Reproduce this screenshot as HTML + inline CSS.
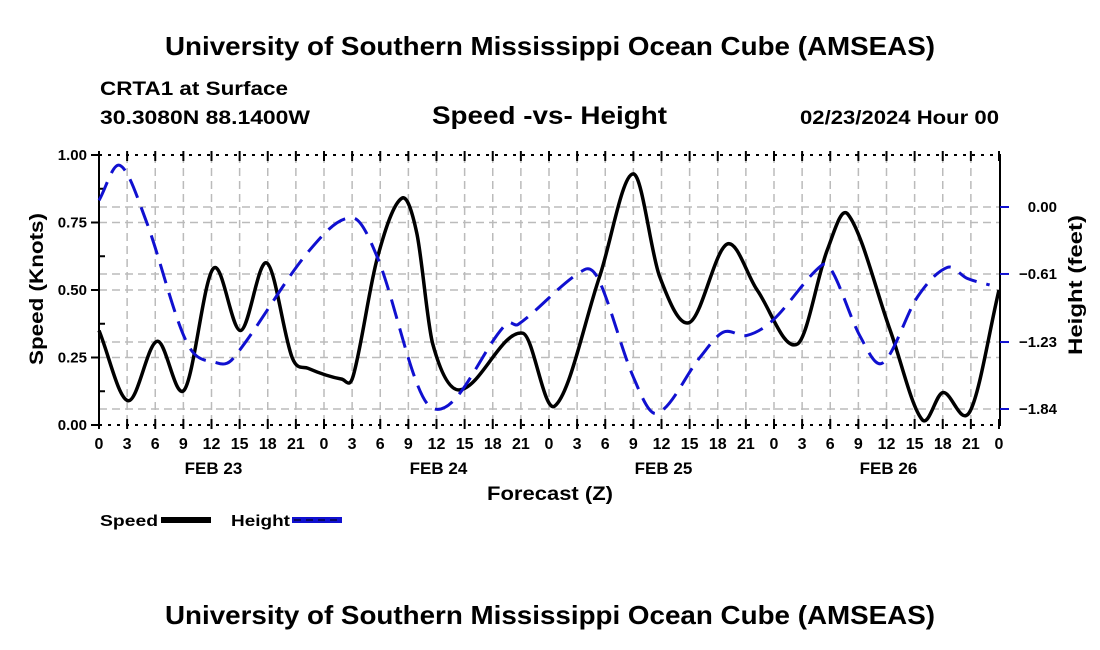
<!DOCTYPE html>
<html><head><meta charset="utf-8"><style>
body{margin:0;background:#fff;}
svg{display:block;font-family:"Liberation Sans",Arial,sans-serif;font-weight:bold;}
</style></head><body>
<svg id="c" width="1100" height="650" viewBox="0 0 1100 650">
<text x="165" y="55" font-size="26" textLength="770" lengthAdjust="spacingAndGlyphs">University of Southern Mississippi Ocean Cube (AMSEAS)</text>
<text x="100" y="95" font-size="19" textLength="188" lengthAdjust="spacingAndGlyphs">CRTA1 at Surface</text>
<text x="100" y="124" font-size="19" textLength="210" lengthAdjust="spacingAndGlyphs">30.3080N  88.1400W</text>
<text x="432" y="124" font-size="25" textLength="235" lengthAdjust="spacingAndGlyphs">Speed -vs- Height</text>
<text x="800" y="124" font-size="19" textLength="199" lengthAdjust="spacingAndGlyphs">02/23/2024 Hour 00</text>
<g id="grid"></g><g id="axes"></g><g id="series"></g>
<text x="487" y="500" font-size="19" textLength="126" lengthAdjust="spacingAndGlyphs">Forecast (Z)</text>
<text transform="translate(43,289) rotate(-90)" text-anchor="middle" font-size="19" textLength="152" lengthAdjust="spacingAndGlyphs">Speed (Knots)</text>
<text transform="translate(1082,285) rotate(-90)" text-anchor="middle" font-size="19" textLength="140" lengthAdjust="spacingAndGlyphs">Height (feet)</text>
<g><text x="100" y="526" font-size="16" textLength="58" lengthAdjust="spacingAndGlyphs">Speed</text><rect x="161" y="517" width="50" height="6" fill="#000"/></g>
<g><text x="231" y="526" font-size="16" textLength="59" lengthAdjust="spacingAndGlyphs">Height</text><rect x="292" y="517" width="50" height="6" fill="#1010d0"/><line x1="294" y1="520" x2="340" y2="520" stroke="#000" stroke-width="1" stroke-dasharray="7,5"/></g>
<text x="165" y="624" font-size="26" textLength="770" lengthAdjust="spacingAndGlyphs">University of Southern Mississippi Ocean Cube (AMSEAS)</text>
</svg>
<script>
const speedHours=[0,3.1,6.2,9.1,12.2,15.1,17.9,20.6,22.3,25.9,27.1,29.7,32.3,33.9,35.6,38.5,45.2,48.6,53.4,57.0,59.8,63.0,67.0,70.2,74.5,77.7,79.9,84.4,87.8,90.0,92.9,96];
const speedValues=[0.35,0.09,0.31,0.13,0.58,0.35,0.60,0.25,0.21,0.17,0.18,0.62,0.84,0.71,0.30,0.13,0.34,0.07,0.55,0.93,0.55,0.38,0.67,0.50,0.30,0.65,0.78,0.35,0.02,0.12,0.05,0.50];
const heightHours=[0,2.2,5,9.4,12.6,14.3,22.5,27.1,29.7,35.5,43.5,44.7,51.8,53.4,57.0,59.5,64.1,66.6,69.1,71.9,77.1,78.3,81.2,83.6,87.3,90.5,92.6,95];
const heightValues=[0.06,0.38,-0.12,-1.24,-1.42,-1.38,-0.39,-0.10,-0.46,-1.83,-1.06,-1.07,-0.57,-0.68,-1.55,-1.88,-1.37,-1.14,-1.17,-1.03,-0.53,-0.60,-1.18,-1.42,-0.82,-0.55,-0.65,-0.71];
const hourTicks=[0,3,6,9,12,15,18,21,0,3,6,9,12,15,18,21,0,3,6,9,12,15,18,21,0,3,6,9,12,15,18,21,0];
const dayLabels=['FEB 23','FEB 24','FEB 25','FEB 26'];
const speedTicks=['0.00','0.25','0.50','0.75','1.00'];
const heightTicks=[0.00,-0.61,-1.23,-1.84];
const X0=99,X1=999,YT=155,YB=425;
const xs=h=>X0+(X1-X0)*h/96;
const ys=v=>YB-(YB-YT)*v/1.0;
const yh=v=>207+(v/-1.84)*202;
const NS='http://www.w3.org/2000/svg';
function mk(p,tag,at){const e=document.createElementNS(NS,tag);for(const k in at)e.setAttribute(k,at[k]);document.getElementById(p).appendChild(e);return e;}
for(let i=1;i<32;i++){const x=xs(i*3);
const g=mk('grid','line',{x1:x,y1:YT,x2:x,y2:YB,stroke:'#bbb','stroke-width':1.5,'stroke-dasharray':'8,5'});

}
[0.25,0.5,0.75].forEach(v=>{const g=mk('grid','line',{x1:X0,y1:ys(v),x2:X1,y2:ys(v),stroke:'#bbb','stroke-width':1.5,'stroke-dasharray':'8,5'});

});
heightTicks.forEach(v=>{const g=mk('grid','line',{x1:X0,y1:yh(v),x2:X1,y2:yh(v),stroke:'#bbb','stroke-width':1.5,'stroke-dasharray':'8,5'});

});
[YT,YB].forEach(y=>{mk('axes','line',{x1:X0,y1:y,x2:X1,y2:y,stroke:'#000','stroke-width':2,'stroke-dasharray':'3,6'});});
let a=mk('axes','line',{x1:X0,y1:YT-1,x2:X0,y2:YB+1,stroke:'#000','stroke-width':2});


a=mk('axes','line',{x1:X1+1,y1:YT-1,x2:X1+1,y2:YB+1,stroke:'#000','stroke-width':2});


hourTicks.forEach((t,i)=>{const x=xs(i*3);
mk('axes','line',{x1:x,y1:YB-6,x2:x,y2:YB+4,stroke:'#000','stroke-width':2});
mk('axes','line',{x1:x,y1:YT-4,x2:x,y2:YT+6,stroke:'#000','stroke-width':2});
const tx=mk('axes','text',{x:x,y:449,'text-anchor':'middle','font-size':16});tx.textContent=t;

});
dayLabels.forEach((d,i)=>{const tx=mk('axes','text',{x:xs(12+24*i)+2,y:474,'text-anchor':'middle','font-size':17});tx.textContent=d;

});
speedTicks.forEach((t,i)=>{const y=ys(i*0.25);
mk('axes','line',{x1:X0-8,y1:y,x2:X0,y2:y,stroke:'#000','stroke-width':2});
if(i<4)mk('axes','line',{x1:X0,y1:ys(i*0.25+0.125),x2:X0+6,y2:ys(i*0.25+0.125),stroke:'#000','stroke-width':2});
const tx=mk('axes','text',{x:X0-12,y:y+5,'text-anchor':'end','font-size':15});tx.textContent=t;

});
heightTicks.forEach(v=>{const y=yh(v);
mk('axes','line',{x1:X1+1,y1:y,x2:X1+10,y2:y,stroke:'#1010d0','stroke-width':2});
const tx=mk('axes','text',{x:1057,y:y+5,'text-anchor':'end','font-size':15});tx.textContent=(v===0?'0.00':'\u2212'+Math.abs(v).toFixed(2));

});
function spline(pts){const n=pts.length,m=[];
for(let i=0;i<n;i++){const a=pts[Math.max(0,i-1)],b=pts[Math.min(n-1,i+1)];m.push((b[1]-a[1])/(b[0]-a[0]));}
let d='M'+pts[0][0]+','+pts[0][1];
for(let i=0;i<n-1;i++){const p1=pts[i],p2=pts[i+1],dx=(p2[0]-p1[0])/3;
d+=' C'+(p1[0]+dx)+','+(p1[1]+m[i]*dx)+' '+(p2[0]-dx)+','+(p2[1]-m[i+1]*dx)+' '+p2[0]+','+p2[1];}return d;}
let s=mk('series','path',{d:spline(speedHours.map((h,i)=>[xs(h),ys(speedValues[i])])),fill:'none',stroke:'#000','stroke-width':3.5});


s=mk('series','path',{d:spline(heightHours.map((h,i)=>[xs(h),yh(heightValues[i])])),fill:'none',stroke:'#1010d0','stroke-width':3,'stroke-dasharray':'20,10'});


</script>
</body></html>
